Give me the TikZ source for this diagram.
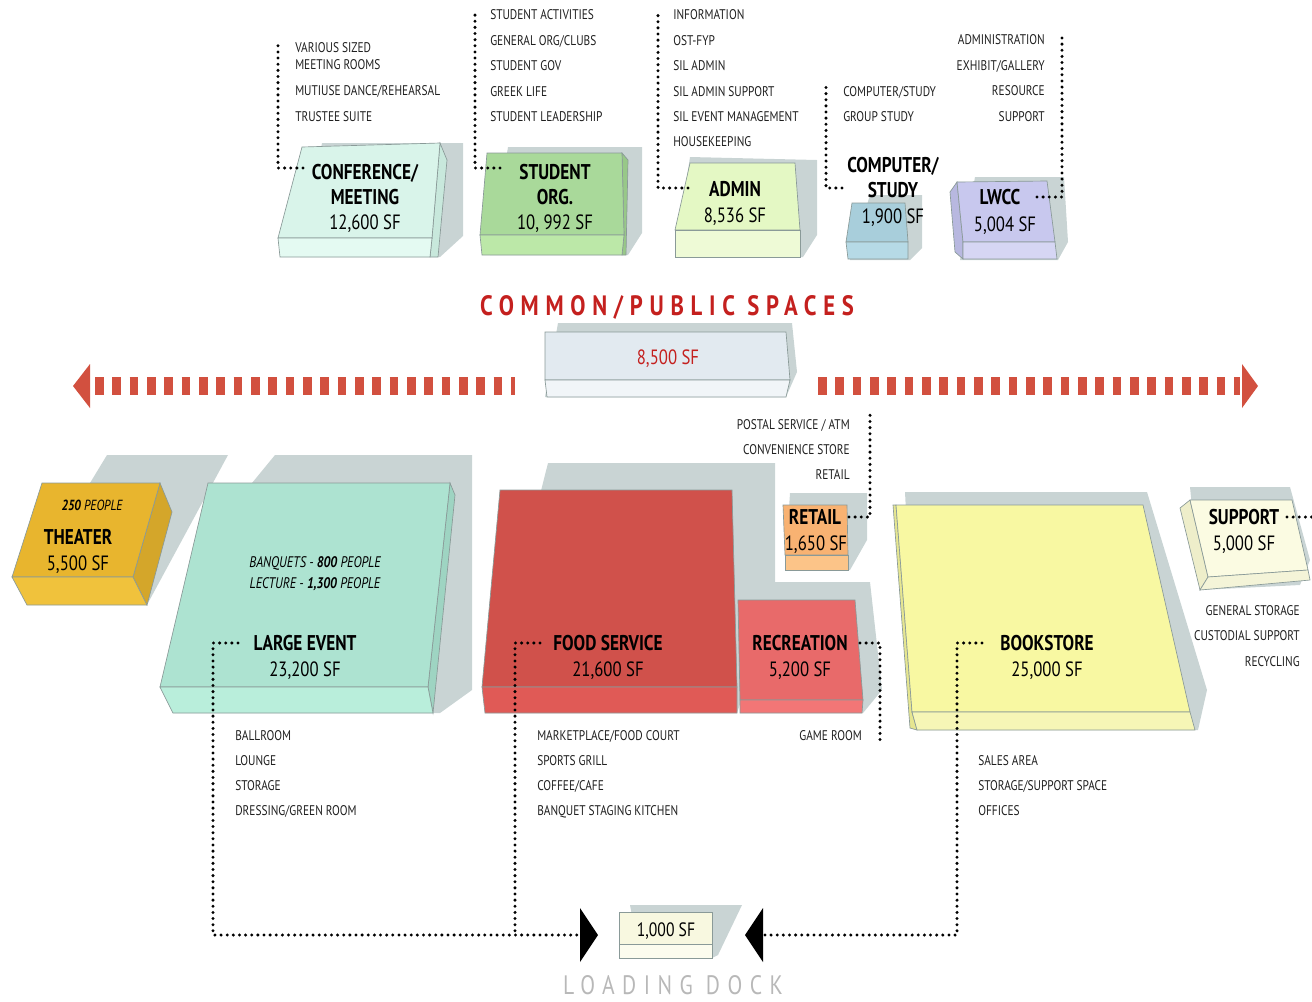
\documentclass[tikz,border=0pt]{standalone}
\usepackage{fontspec}
\setmainfont{PT Sans}[FakeStretch=0.81]
\definecolor{shadowc}{HTML}{C9D4D4}
\definecolor{titler}{HTML}{C4201E}
\definecolor{barr}{HTML}{D2503F}
\definecolor{edgec}{HTML}{8A9A98}
\definecolor{cfS}{HTML}{C8E8DC}\definecolor{cfT}{HTML}{D9F4EA}\definecolor{cfF}{HTML}{E4FAF2}
\definecolor{soS}{HTML}{98C888}\definecolor{soT}{HTML}{A9D99A}\definecolor{soF}{HTML}{BCE8A8}
\definecolor{adT}{HTML}{E4F8C4}\definecolor{adF}{HTML}{EEFAD6}
\definecolor{csT}{HTML}{A8CEDB}\definecolor{csF}{HTML}{B6DAE6}
\definecolor{lwS}{HTML}{B8B8E0}\definecolor{lwT}{HTML}{C8C8EE}\definecolor{lwF}{HTML}{D6D6F4}
\definecolor{cpT}{HTML}{E2EAF0}\definecolor{cpF}{HTML}{F1F5F8}
\definecolor{thS}{HTML}{D4A62A}\definecolor{thT}{HTML}{E8B52E}\definecolor{thF}{HTML}{F0C23C}
\definecolor{leS}{HTML}{9ED4C2}\definecolor{leT}{HTML}{ADE3D1}\definecolor{leF}{HTML}{B9EEDB}
\definecolor{fsT}{HTML}{D0514B}\definecolor{fsF}{HTML}{E05A56}
\definecolor{rcT}{HTML}{E86A6A}\definecolor{rcF}{HTML}{F27676}
\definecolor{rtT}{HTML}{F8B272}\definecolor{rtF}{HTML}{FCC488}
\definecolor{bkS}{HTML}{E6E690}\definecolor{bkT}{HTML}{F8F8A2}\definecolor{bkF}{HTML}{F6F6B6}
\definecolor{spS}{HTML}{EEEECA}\definecolor{spT}{HTML}{FBFBE2}\definecolor{spF}{HTML}{F4F4D8}
\definecolor{ldT}{HTML}{F8F8E0}\definecolor{ldF}{HTML}{FCFCEE}
\begin{document}
\begin{tikzpicture}[x=0.75pt,y=-0.75pt,
  shd/.style={fill=shadowc,draw=none},
  face/.style={draw=edgec,line width=0.5pt},
  lst/.style={font=\fontsize{10.5}{12}\selectfont,text=black!88,inner sep=0pt,text height=7.4pt,text depth=0pt},
  ttl/.style={font=\fontsize{16}{18}\selectfont\bfseries,inner sep=0pt,text height=11.2pt,text depth=0pt},
  area/.style={font=\fontsize{15.5}{18}\selectfont,inner sep=0pt,text height=10.9pt,text depth=0pt},
  dots/.style={line width=2.5pt,dash pattern=on 0pt off 4.6pt,line cap=round},
  tri/.style={fill=black,draw=none}]
\useasboundingbox (0,0) rectangle (1312,1001);

% ---------------- shadows ----------------
\fill[shd] (322,143)--(463,143)--(463,236)--(440,257)--(300,257)--cycle;
\fill[shd] (508,147)--(642,147)--(642,233)--(628,255)--(490,255)--cycle;
\fill[shd] (690,157)--(817,160)--(817,235)--(803,257)--(675,257)--cycle;
\fill[shd] (870,195)--(922,195)--(922,248)--(910,260)--(850,260)--cycle;
\fill[shd] (975,177)--(1064,177)--(1068,242)--(1058,260)--(960,260)--cycle;
\fill[shd] (558,323)--(792,323)--(797,372)--(786,397)--(545,397)--cycle;
\fill[shd] (90,483)--(107,455)--(228,455)--(148,603)--(90,603)--cycle;
\fill[shd] (252,483)--(275,455)--(472,455)--(472,690)--(440,713)--(173,713)--cycle;
\fill[shd] (548,463)--(775,463)--(775,600)--(737,713)--(485,713)--cycle;
\fill[shd] (760,582)--(870,582)--(882,690)--(863,713)--(740,713)--cycle;
\fill[shd] (790,493)--(867,493)--(867,540)--(850,570)--(785,570)--cycle;
\fill[shd] (905,492)--(1147,492)--(1207,690)--(1198,730)--(917,730)--cycle;
\fill[shd] (1190,487)--(1290,487)--(1310,560)--(1300,585)--(1200,590)--cycle;
\fill[shd] (630,905)--(742,905)--(718,955)--(712,958)--(640,958)--cycle;

% ---------------- top row blocks ----------------
\filldraw[face,fill=cfS] (440,143)--(447,160)--(438,257)--(430,257)--(432,238)--cycle;
\filldraw[face,fill=cfT] (302,147)--(440,143)--(432,238)--(278,238)--cycle;
\filldraw[face,fill=cfF] (278,238)--(432,238)--(430,257)--(280,257)--cycle;
\filldraw[face,fill=soS] (622,153)--(628,160)--(626,255)--(622,255)--(624,235)--cycle;
\filldraw[face,fill=soT] (487,153)--(622,153)--(624,235)--(480,235)--cycle;
\filldraw[face,fill=soF] (480,235)--(624,235)--(622,255)--(482,255)--cycle;
\filldraw[face,fill=adT] (690,163)--(795,163)--(800,230)--(675,230)--cycle;
\filldraw[face,fill=adF] (675,230)--(800,230)--(800,257)--(675,257)--cycle;
\filldraw[face,fill=csT] (852,203)--(905,203)--(908,242)--(846,242)--cycle;
\filldraw[face,fill=csF] (846,242)--(908,242)--(908,259)--(848,259)--cycle;
\filldraw[face,fill=lwS] (950,192)--(957,182)--(963,242)--(963,259)--(955,252)--cycle;
\filldraw[face,fill=lwT] (957,182)--(1047,181)--(1055,242)--(963,242)--cycle;
\filldraw[face,fill=lwF] (963,242)--(1055,242)--(1057,259)--(963,259)--cycle;

% ---------------- common public spaces ----------------
\filldraw[face,fill=cpT] (545,332)--(786,332)--(790,380)--(545,380)--cycle;
\filldraw[face,fill=cpF] (545,380)--(790,380)--(786,397)--(547,397)--cycle;

% ---------------- lower blocks ----------------
\filldraw[face,fill=thS] (160,483)--(172,512)--(147,605)--(133,577)--cycle;
\filldraw[face,fill=thT] (42,483)--(160,483)--(133,577)--(12,577)--cycle;
\filldraw[face,fill=thF] (12,577)--(133,577)--(147,605)--(27,605)--cycle;
\filldraw[face,fill=leS] (450,483)--(455,495)--(433,713)--(428,687)--cycle;
\filldraw[face,fill=leT] (208,483)--(450,483)--(428,687)--(160,687)--cycle;
\filldraw[face,fill=leF] (160,687)--(428,687)--(433,713)--(173,713)--cycle;
\filldraw[face,fill=fsT] (500,490)--(732,490)--(737,687)--(482,687)--cycle;
\filldraw[face,fill=fsF] (482,687)--(737,687)--(737,713)--(485,713)--cycle;
\filldraw[face,fill=rcT] (738,600)--(855,600)--(863,700)--(740,700)--cycle;
\filldraw[face,fill=rcF] (740,700)--(863,700)--(862,713)--(740,713)--cycle;
\filldraw[face,fill=rtT] (783,505)--(847,505)--(848,555)--(785,555)--cycle;
\filldraw[face,fill=rtF] (785,555)--(848,555)--(848,570)--(785,570)--cycle;
\filldraw[face,fill=bkS] (893,505)--(896,505)--(912,712)--(917,730)--(910,728)--cycle;
\filldraw[face,fill=bkT] (896,505)--(1143,505)--(1190,712)--(912,712)--cycle;
\filldraw[face,fill=bkF] (912,712)--(1190,712)--(1195,730)--(917,730)--cycle;
\filldraw[face,fill=spS] (1180,508)--(1190,500)--(1208,577)--(1200,590)--cycle;
\filldraw[face,fill=spT] (1190,500)--(1292,500)--(1308,570)--(1208,577)--cycle;
\filldraw[face,fill=spF] (1208,577)--(1308,570)--(1310,580)--(1200,590)--cycle;
\filldraw[face,fill=ldT] (619,912)--(712,912)--(712,944)--(619,944)--cycle;
\filldraw[face,fill=ldF] (619,944)--(712,944)--(712,958)--(619,958)--cycle;

% ---------------- arrows common ----------------
\draw[barr,line width=13.5pt,dash pattern=on 6.6pt off 6.4pt] (95,386) -- (515,386);
\fill[barr] (73,386)--(90,364)--(90,408)--cycle;
\draw[barr,line width=13.5pt,dash pattern=on 6.6pt off 6.4pt] (818,386) -- (1240,386);
\fill[barr] (1258,386)--(1242,364)--(1242,408)--cycle;

% ---------------- texts ----------------
\node[ttl] (confA) at (365,172) {CONFERENCE/};
\node[ttl] (confB) at (365,197) {MEETING};
\node[area] (confC) at (365,222) {12,600 SF};
\node[ttl] (soA) at (555,172) {STUDENT};
\node[ttl] (soB) at (555,197) {ORG.};
\node[area] (soC) at (555,222) {10, 992 SF};
\node[ttl] (adA) at (735,189) {ADMIN};
\node[area] (adB) at (735,215) {8,536 SF};
\node[ttl] (csA) at (893,165) {COMPUTER/};
\node[ttl] (csB) at (893,190) {STUDY};
\node[area] (csC) at (893,216) {1,900 SF};
\node[ttl] (lwA) at (1000,197) {LWCC};
\node[area] (lwB) at (1005,224) {5,004 SF};

\node[font=\fontsize{21}{24}\selectfont\bfseries\addfontfeatures{LetterSpace=24},text=titler,inner sep=0pt,text height=14.7pt,text depth=0pt] (cpTt) at (667,306) {COMMON/PUBLIC SPACES};
\node[area,text=titler] (cpA) at (668,357) {8,500 SF};

\node[font=\fontsize{11}{13}\selectfont\itshape,inner sep=0pt,text height=7.7pt,text depth=0pt] (thP) at (92,505) {\textbf{250} PEOPLE};
\node[ttl] (thA) at (78,537) {THEATER};
\node[area] (thB) at (78,563) {5,500 SF};

\node[font=\fontsize{11.5}{13}\selectfont\itshape,inner sep=0pt,text height=8pt,text depth=0pt] (leP) at (315,562) {BANQUETS - \textbf{800} PEOPLE};
\node[font=\fontsize{11.5}{13}\selectfont\itshape,inner sep=0pt,text height=8pt,text depth=0pt] (leQ) at (315,583) {LECTURE - \textbf{1,300} PEOPLE};
\node[ttl] (leA) at (305,643) {LARGE EVENT};
\node[area] (leB) at (305,669) {23,200 SF};
\node[ttl] (fsA) at (608,643) {FOOD SERVICE};
\node[area] (fsB) at (608,669) {21,600 SF};
\node[ttl] (rcA) at (800,643) {RECREATION};
\node[area] (rcB) at (800,669) {5,200 SF};
\node[ttl] (rtA) at (815,517) {RETAIL};
\node[area] (rtB) at (816,543) {1,650 SF};
\node[ttl] (bkA) at (1047,643) {BOOKSTORE};
\node[area] (bkB) at (1047,669) {25,000 SF};
\node[ttl] (spA) at (1244,517) {SUPPORT};
\node[area] (spB) at (1244,543) {5,000 SF};
\node[area,font=\fontsize{14.5}{17}\selectfont,text height=10.2pt] (ldA) at (666,930) {1,000 SF};
\node[font=\fontsize{20}{24}\selectfont\addfontfeatures{LetterSpace=28},text=black!28,inner sep=0pt,text height=14pt,text depth=0pt] (ldTt) at (673,985) {LOADING DOCK};

% lists
\node[lst,anchor=west] (c1) at (295,48) {VARIOUS SIZED};
\node[lst,anchor=west] (c2) at (295,65) {MEETING ROOMS};
\node[lst,anchor=west] (c3) at (295,91) {MUTIUSE DANCE/REHEARSAL};
\node[lst,anchor=west] (c4) at (295,117) {TRUSTEE SUITE};

\node[lst,anchor=west] (s1) at (490,15) {STUDENT ACTIVITIES};
\node[lst,anchor=west] (s2) at (490,41) {GENERAL ORG/CLUBS};
\node[lst,anchor=west] (s3) at (490,66) {STUDENT GOV};
\node[lst,anchor=west] (s4) at (490,92) {GREEK LIFE};
\node[lst,anchor=west] (s5) at (490,117) {STUDENT LEADERSHIP};

\node[lst,anchor=west] (a1) at (673,15) {INFORMATION};
\node[lst,anchor=west] (a2) at (673,41) {OST-FYP};
\node[lst,anchor=west] (a3) at (673,66) {SIL ADMIN};
\node[lst,anchor=west] (a4) at (673,92) {SIL ADMIN SUPPORT};
\node[lst,anchor=west] (a5) at (673,117) {SIL EVENT MANAGEMENT};
\node[lst,anchor=west] (a6) at (673,142) {HOUSEKEEPING};

\node[lst,anchor=west] (k1) at (843,92) {COMPUTER/STUDY};
\node[lst,anchor=west] (k2) at (843,117) {GROUP STUDY};

\node[lst,anchor=east] (w1) at (1045,40) {ADMINISTRATION};
\node[lst,anchor=east] (w2) at (1045,66) {EXHIBIT/GALLERY};
\node[lst,anchor=east] (w3) at (1045,91) {RESOURCE};
\node[lst,anchor=east] (w4) at (1045,117) {SUPPORT};

\node[lst,anchor=east] (r1) at (850,425) {POSTAL SERVICE / ATM};
\node[lst,anchor=east] (r2) at (850,450) {CONVENIENCE STORE};
\node[lst,anchor=east] (r3) at (850,475) {RETAIL};

\node[lst,anchor=east] (p1) at (1300,611) {GENERAL STORAGE};
\node[lst,anchor=east] (p2) at (1300,636) {CUSTODIAL SUPPORT};
\node[lst,anchor=east] (p3) at (1300,662) {RECYCLING};

\node[lst,anchor=west] (l1) at (235,736) {BALLROOM};
\node[lst,anchor=west] (l2) at (235,761) {LOUNGE};
\node[lst,anchor=west] (l3) at (235,786) {STORAGE};
\node[lst,anchor=west] (l4) at (235,811) {DRESSING/GREEN ROOM};

\node[lst,anchor=west] (f1) at (537,736) {MARKETPLACE/FOOD COURT};
\node[lst,anchor=west] (f2) at (537,761) {SPORTS GRILL};
\node[lst,anchor=west] (f3) at (537,786) {COFFEE/CAFE};
\node[lst,anchor=west] (f4) at (537,811) {BANQUET STAGING KITCHEN};

\node[lst,anchor=east] (g1) at (862,736) {GAME ROOM};

\node[lst,anchor=west] (b1) at (978,761) {SALES AREA};
\node[lst,anchor=west] (b2) at (978,786) {STORAGE/SUPPORT SPACE};
\node[lst,anchor=west] (b3) at (978,811) {OFFICES};

% ---------------- dotted connectors ----------------
\coordinate (confS) at (303,168); \coordinate (confE) at (278,43);
\coordinate (soS0) at (500,168); \coordinate (soE) at (475,10);
\coordinate (adS) at (688,188); \coordinate (adE) at (658,12);
\coordinate (csS) at (842,188); \coordinate (csE) at (826,87);
\coordinate (lwS0) at (1037,197); \coordinate (lwE) at (1062,33);
\coordinate (rtS) at (849,517); \coordinate (rtE) at (870,415);
\coordinate (spS0) at (1287,517); \coordinate (spE) at (1312,517);
\coordinate (leS0) at (238,643); \coordinate (fsS) at (540,643);
\coordinate (bkS0) at (982,643); \coordinate (rcS) at (860,643); \coordinate (rcE) at (880,745);
\coordinate (ldL) at (581,935); \coordinate (ldR) at (762,935);
\coordinate (fsJ) at (515,935);
\coordinate (leC) at (213,935); \coordinate (bkC) at (957,935);

\draw[dots] (confS) -| (confE);
\draw[dots] (soS0) -| (soE);
\draw[dots] (adS) -| (adE);
\draw[dots] (csS) -| (csE);
\draw[dots] (lwS0) -| (lwE);
\draw[dots] (rtS) -| (rtE);
\draw[dots] (spS0) -- (spE);
\draw[dots] (leS0) -| (leC) -- (ldL);
\draw[dots] (fsS) -| (fsJ);
\draw[dots] (bkS0) -| (bkC) -- (ldR);
\draw[dots] (rcS) -| (rcE);

\fill[tri] (580,908)--(598,935)--(580,962)--cycle;
\fill[tri] (763,908)--(745,935)--(763,962)--cycle;
\end{tikzpicture}
\end{document}
